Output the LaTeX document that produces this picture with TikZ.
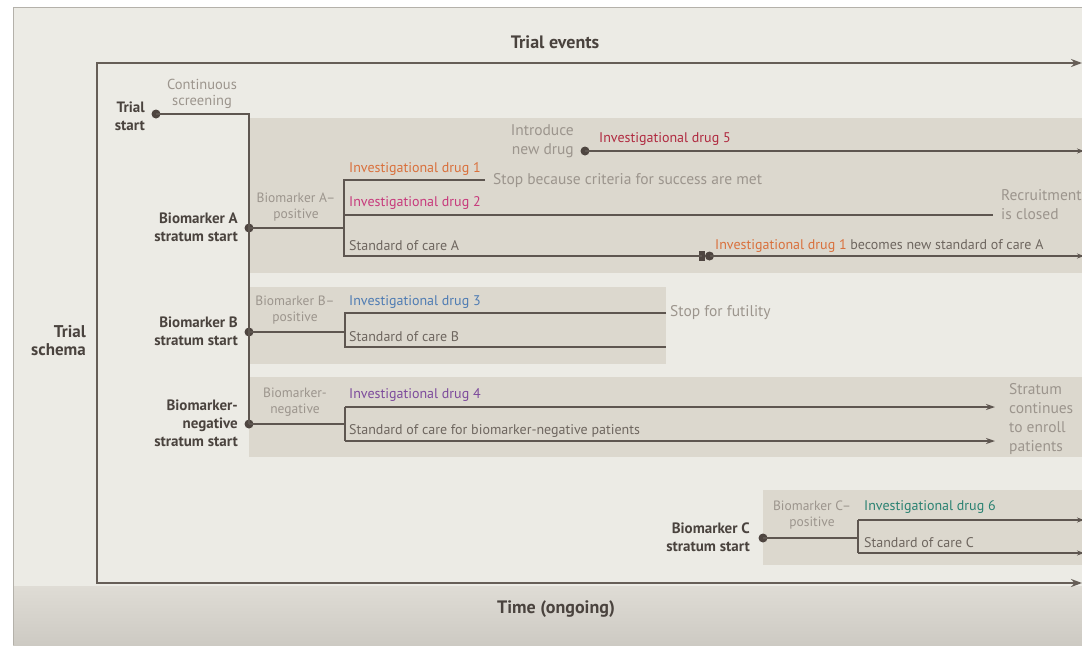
\documentclass[tikz,border=0pt]{standalone}
\usepackage{fontspec}
\setmainfont{PT Sans}
\usetikzlibrary{arrows.meta}
\definecolor{panel}{HTML}{ECEBE5}
\definecolor{panelmid}{HTML}{DFDCD5}
\definecolor{panelbot}{HTML}{CDCAC3}
\definecolor{framegray}{HTML}{B4B1AA}
\definecolor{boxfill}{HTML}{DCD8CE}
\definecolor{linec}{HTML}{5E5650}
\definecolor{axisc}{HTML}{665E57}
\definecolor{dotc}{HTML}{4E4540}
\definecolor{darktext}{HTML}{4A433E}
\definecolor{midtext}{HTML}{6E665F}
\definecolor{lighttext}{HTML}{9C958D}
\definecolor{drugone}{HTML}{D9703C}
\definecolor{drugtwo}{HTML}{C73A7C}
\definecolor{drugthree}{HTML}{4F7CB3}
\definecolor{drugfour}{HTML}{7D4B9C}
\definecolor{drugfive}{HTML}{B02A40}
\definecolor{drugsix}{HTML}{2B8272}
\tikzset{
  axisline/.style={draw=axisc, line width=1.8pt},
  branch/.style={draw=linec, line width=1.3pt},
  edgetip/.style={-{Stealth[length=7pt,width=5pt]}},
  endtip/.style={-{Stealth[length=9pt,width=6pt]}},
  dot/.style={circle, fill=dotc, inner sep=0pt, minimum size=9pt},
  sqmark/.style={rectangle, fill=dotc, inner sep=0pt, minimum width=6pt, minimum height=10pt},
  stratum/.style={font=\bfseries\fontsize{15}{17.8}\selectfont, text=darktext, align=right, inner sep=0pt},
  biolbl/.style={font=\fontsize{13.5}{16}\selectfont, text=lighttext, align=center, inner sep=0pt},
  note/.style={font=\fontsize{15.5}{18.5}\selectfont, text=lighttext, inner sep=0pt},
  druglbl/.style={font=\fontsize{14}{16}\selectfont, anchor=west, inner sep=0pt},
  title/.style={font=\bfseries\fontsize{18}{18}\selectfont, text=darktext, inner sep=0pt},
  stratbox/.style={fill=boxfill}
}
\begin{document}
\begin{tikzpicture}[x=1pt,y=-1pt]
\useasboundingbox (0,0) rectangle (1082,646);
% page and panel
\fill[white] (0,0) rectangle (1082,646);
\fill[panel] (13,7) rectangle (1090,645);
\shade[top color=panelmid, bottom color=panelbot] (13,586) rectangle (1090,645);
\draw[framegray, line width=1pt] (13,645) -- (13,7) -- (1090,7);

% stratum boxes
\fill[stratbox] (249,118) rectangle (1082,273);
\fill[stratbox] (249,287) rectangle (666,364);
\fill[stratbox] (249,377) rectangle (1082,457);
\fill[stratbox] (763,490) rectangle (1082,565);

% axes
\coordinate (axTR) at (1082,63);
\coordinate (axTL) at (97,63);
\coordinate (axBL) at (97,583);
\coordinate (axBR) at (1082,583);
\draw[axisline, {Stealth[length=11pt,width=8pt]}-{Stealth[length=11pt,width=8pt]}] (axTR) -- (axTL) -- (axBL) -- (axBR);
\node[title] (tEvents) at (555,42) {Trial events};
\node[title] (tTime) at (556,609) {Time (ongoing)};
\node[title, align=right, anchor=east, font=\bfseries\fontsize{17}{18}\selectfont] (tSchema) at (86,341) {Trial\\schema};

% trial start and screening spine
\node[dot] (ts) at (156,114) {};
\node[stratum, anchor=east] (tsLbl) at (145,116) {Trial\\start};
\node[biolbl, font=\fontsize{14.5}{16}\selectfont] (scrLbl) at (202,94) {Continuous\\screening};
\coordinate (spine) at (249,114);
\node[dot] (dA) at (249,228) {};
\node[dot] (dB) at (249,332) {};
\node[dot] (dN) at (249,424) {};
\draw[branch] (ts.center) -- (spine) -- (dN.center);

% stratum A
\node[stratum, anchor=east] (aLbl) at (238,227) {Biomarker A\\stratum start};
\node[biolbl] (aBio) at (296,207) {Biomarker A–\\positive};
\coordinate (aJ) at (344,228);
\coordinate (a1s) at (344,180);
\coordinate (a1e) at (485,180);
\coordinate (a2s) at (344,215);
\coordinate (a2e) at (993,215);
\coordinate (a3s) at (344,256);
\coordinate (a3e) at (1084,256);
\node[sqmark] (sqA) at (702,256) {};
\node[dot] (dA5) at (709.5,256) {};
\draw[branch] (dA.center) -- (aJ);
\draw[branch] (a1e) -- (a1s) -- (a3s) -- (sqA.center);
\draw[branch] (a2s) -- (a2e);
\draw[branch, edgetip] (dA5.center) -- (a3e);
\node[druglbl, text=drugone] (lA1) at (349,169) {Investigational drug 1};
\node[druglbl, text=drugtwo] (lA2) at (349,203) {Investigational drug 2};
\node[druglbl, text=midtext] (lA3) at (349,246) {Standard of care A};
\node[note, anchor=west] (stopA) at (493,181) {Stop because criteria for success are met};
\node[note, anchor=west, align=left] (recA) at (1001,204.5) {Recruitment\\is closed};
\node[druglbl, text=midtext] (newSoc) at (715,246) {\textcolor{drugone}{Investigational drug 1} becomes new standard of care A};
% drug 5
\node[dot] (d5) at (585,151) {};
\coordinate (d5e) at (1084,151);
\draw[branch, edgetip] (d5.center) -- (d5e);
\node[note, anchor=east, align=right] (introLbl) at (574,141) {Introduce\\new drug};
\node[druglbl, text=drugfive] (l5) at (599,139) {Investigational drug 5};

% stratum B
\node[stratum, anchor=east] (bLbl) at (238,331.5) {Biomarker B\\stratum start};
\node[biolbl] (bBio) at (295,310) {Biomarker B–\\positive};
\coordinate (bJ) at (345,332);
\coordinate (b1s) at (345,313);
\coordinate (b1e) at (666,313);
\coordinate (b2s) at (345,347);
\coordinate (b2e) at (666,347);
\draw[branch] (dB.center) -- (bJ);
\draw[branch] (b1e) -- (b1s) -- (b2s) -- (b2e);
\node[druglbl, text=drugthree] (lB1) at (349,302) {Investigational drug 3};
\node[druglbl, text=midtext] (lB2) at (349,337) {Standard of care B};
\node[note, anchor=west] (futB) at (670,313) {Stop for futility};

% biomarker-negative stratum
\node[stratum, anchor=east] (nLbl) at (238,423) {Biomarker-\\negative\\stratum start};
\node[biolbl] (nBio) at (295,402.5) {Biomarker-\\negative};
\coordinate (nJ) at (345,424);
\coordinate (n1s) at (345,407);
\coordinate (n1e) at (995,407);
\coordinate (n2s) at (345,441);
\coordinate (n2e) at (995,441);
\draw[branch] (dN.center) -- (nJ);
\draw[branch] (n1s) -- (n2s);
\draw[branch, endtip] (n1s) -- (n1e);
\draw[branch, endtip] (n2s) -- (n2e);
\node[druglbl, text=drugfour] (lN1) at (349,395) {Investigational drug 4};
\node[druglbl, text=midtext] (lN2) at (349,431) {Standard of care for biomarker-negative patients};
\node[note, anchor=west, align=left, font=\fontsize{15.5}{18.7}\selectfont] (contN) at (1009,419) {Stratum\\continues\\to enroll\\patients};

% stratum C
\node[dot] (dC) at (763,538) {};
\node[stratum, anchor=east] (cLbl) at (750,537.5) {Biomarker C\\stratum start};
\node[biolbl] (cBio) at (812,515.5) {Biomarker C–\\positive};
\coordinate (cJ) at (858,538);
\coordinate (c1s) at (858,520);
\coordinate (c1e) at (1084,520);
\coordinate (c2s) at (858,553);
\coordinate (c2e) at (1084,553);
\draw[branch] (dC.center) -- (cJ);
\draw[branch] (c1s) -- (c2s);
\draw[branch, edgetip] (c1s) -- (c1e);
\draw[branch, edgetip] (c2s) -- (c2e);
\node[druglbl, text=drugsix] (lC1) at (864,507) {Investigational drug 6};
\node[druglbl, text=midtext] (lC2) at (864,543) {Standard of care C};
\end{tikzpicture}
\end{document}
